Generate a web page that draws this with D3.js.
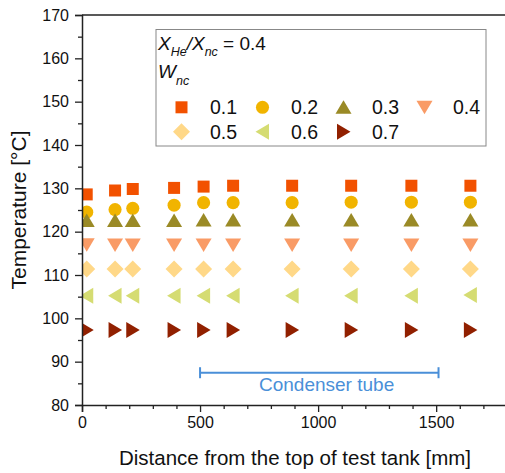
<!DOCTYPE html>
<html>
<head>
<meta charset="utf-8">
<script src="https://cdn.jsdelivr.net/npm/d3@7"></script>
<style>
  body { margin: 0; background: #fff; }
  text { font-family: "Liberation Sans", Arial, sans-serif; }
</style>
</head>
<body>
<div id="chart"></div>
<script>
// positions along the tank [mm]
var distance = [20, 140, 215, 390, 515, 640, 890, 1140, 1395, 1645];

// temperatures [°C] for each W_nc
var wLabels = ["0.1", "0.2", "0.3", "0.4", "0.5", "0.6", "0.7"];
var t01 = [128.6, 129.5, 129.85, 130.1, 130.4, 130.6, 130.6, 130.6, 130.6, 130.6];
var t02 = [124.5, 125.1, 125.4, 126.1, 126.7, 126.7, 126.7, 126.8, 126.8, 126.8];
var t03 = [122.6, 122.6, 122.6, 122.6, 122.7, 122.7, 122.7, 122.7, 122.7, 122.7];
var t04 = [117.0, 116.9, 116.9, 116.9, 116.9, 116.9, 116.9, 116.9, 116.9, 116.9];
var t05 = [111.4, 111.4, 111.4, 111.4, 111.4, 111.4, 111.4, 111.4, 111.4, 111.4];
var t06 = [105.2, 105.2, 105.2, 105.2, 105.2, 105.2, 105.2, 105.2, 105.2, 105.4];
var t07 = [97.3, 97.3, 97.3, 97.3, 97.3, 97.3, 97.3, 97.3, 97.3, 97.3];

var xTicks = [0, 500, 1000, 1500];
var yTicks = [80, 90, 100, 110, 120, 130, 140, 150, 160, 170];
var condenser = [500, 1510];

var series = [t01, t02, t03, t04, t05, t06, t07];
var shapes = ["square", "circle", "up", "down", "diamond", "left", "right"];
var colors = ["#f25100", "#f1b400", "#9a8a26", "#f99b66", "#ffd888", "#d5dc72", "#912000"];

var w = 505, h = 473;
var margin = { top: 15, left: 82 };
var width = 425, height = 390;

var svg = d3.select("#chart").append("svg")
    .attr("width", w)
    .attr("height", h);

var x = d3.scaleLinear().domain([0, 1800]).range([margin.left, margin.left + width]);
var y = d3.scaleLinear().domain([80, 170]).range([margin.top + height, margin.top]);

// marker path, centred on 0,0
function marker(shape) {
    switch (shape) {
        case "square": return "M-6,-6H6V6H-6Z";
        case "circle": return d3.symbol(d3.symbolCircle, 135)();
        case "up": return "M0,-7L8,6.5H-8Z";
        case "down": return "M0,7L8,-6.5H-8Z";
        case "diamond": return "M0,-8.5L8.5,0L0,8.5L-8.5,0Z";
        case "left": return "M-7,0L6.5,-8V8Z";
        case "right": return "M7,0L-6.5,-8V8Z";
    }
}

svg.append("clipPath").attr("id", "plotclip")
    .append("rect")
    .attr("x", margin.left).attr("y", margin.top)
    .attr("width", width).attr("height", height);

var plot = svg.append("g").attr("clip-path", "url(#plotclip)");

series.forEach(function (s, i) {
    plot.selectAll(".m" + i)
        .data(s)
        .join("path")
        .attr("class", "m" + i)
        .attr("d", marker(shapes[i]))
        .attr("fill", colors[i])
        .attr("transform", (d, j) => `translate(${x(distance[j])},${y(d)})`);
});

// condenser tube bracket
var tubeY = y(87.45);
var blue = "#4a8fd8";
svg.append("line")
    .attr("x1", x(condenser[0])).attr("x2", x(condenser[1]))
    .attr("y1", tubeY).attr("y2", tubeY)
    .attr("stroke", blue).attr("stroke-width", 2);
condenser.forEach(function (c) {
    svg.append("line")
        .attr("x1", x(c)).attr("x2", x(c))
        .attr("y1", tubeY - 5.5).attr("y2", tubeY + 5.5)
        .attr("stroke", blue).attr("stroke-width", 2);
});
svg.append("text")
    .attr("x", x(1036)).attr("y", tubeY + 18.5)
    .attr("text-anchor", "middle")
    .attr("fill", blue)
    .style("font-size", "19px")
    .text("Condenser tube");

// axes
var axisColor = "#222";
svg.append("g")
    .attr("transform", `translate(0,${margin.top + height})`)
    .call(d3.axisBottom(x).tickValues(xTicks).tickSize(7).tickPadding(5).tickFormat(d3.format("d")));
svg.append("g")
    .attr("transform", `translate(0,${margin.top + height})`)
    .call(d3.axisBottom(x).tickValues(d3.range(100, 1800, 100).filter(d => d % 500)).tickSize(4).tickFormat(""))
    .select(".domain").remove();

svg.append("g")
    .attr("transform", `translate(${margin.left},0)`)
    .call(d3.axisLeft(y).tickValues(yTicks).tickSize(7).tickPadding(6));
svg.append("g")
    .attr("transform", `translate(${margin.left},0)`)
    .call(d3.axisLeft(y).tickValues(d3.range(85, 170, 10)).tickSize(4).tickFormat(""))
    .select(".domain").remove();

svg.selectAll(".tick text").style("font-size", "16px").attr("fill", "#111");
svg.selectAll(".tick line").attr("stroke", axisColor).attr("stroke-width", 1.3);
svg.selectAll(".domain").attr("stroke", axisColor).attr("stroke-width", 1.5);

// top frame line
svg.append("line")
    .attr("x1", margin.left).attr("x2", w)
    .attr("y1", margin.top).attr("y2", margin.top)
    .attr("stroke", axisColor).attr("stroke-width", 1.5);

// axis labels
svg.append("text")
    .attr("x", 295).attr("y", 465)
    .attr("text-anchor", "middle")
    .style("font-size", "20.5px")
    .attr("fill", "#111")
    .text("Distance from the top of test tank [mm]");

svg.append("text")
    .attr("transform", `translate(26,${margin.top + height / 2}) rotate(-90)`)
    .attr("text-anchor", "middle")
    .style("font-size", "21px")
    .attr("fill", "#111")
    .text("Temperature [°C]");

// legend
var legend = svg.append("g");
legend.append("rect")
    .attr("x", 156).attr("y", 29.5)
    .attr("width", 330).attr("height", 116.5)
    .attr("fill", "#fff")
    .attr("stroke", "#888").attr("stroke-width", 1);

var title = legend.append("text")
    .attr("x", 158).attr("y", 49.5)
    .style("font-size", "19px")
    .attr("fill", "#111");
title.append("tspan").style("font-style", "italic").text("X");
title.append("tspan").style("font-style", "italic").style("font-size", "12.5px").attr("dy", 6).text("He");
title.append("tspan").style("font-style", "italic").attr("dy", -6).text("/X");
title.append("tspan").style("font-style", "italic").style("font-size", "12.5px").attr("dy", 6).text("nc");
title.append("tspan").attr("dy", -6).text(" = 0.4");

var wn = legend.append("text")
    .attr("x", 158).attr("y", 78)
    .style("font-size", "19px")
    .attr("fill", "#111");
wn.append("tspan").style("font-style", "italic").text("W");
wn.append("tspan").style("font-style", "italic").style("font-size", "12.5px").attr("dy", 6.5).text("nc");

var legendItems = legend.selectAll(".item")
    .data(wLabels)
    .join("g")
    .attr("class", "item")
    .attr("transform", (d, i) => `translate(${181.5 + (i % 4) * 81},${i < 4 ? 107.3 : 131.7})`);
legendItems.append("path")
    .attr("d", (d, i) => marker(shapes[i]))
    .attr("fill", (d, i) => colors[i]);
legendItems.append("text")
    .attr("x", 28.5).attr("y", 7)
    .style("font-size", "19.5px")
    .attr("fill", "#111")
    .text(d => d);
</script>
</body>
</html>
